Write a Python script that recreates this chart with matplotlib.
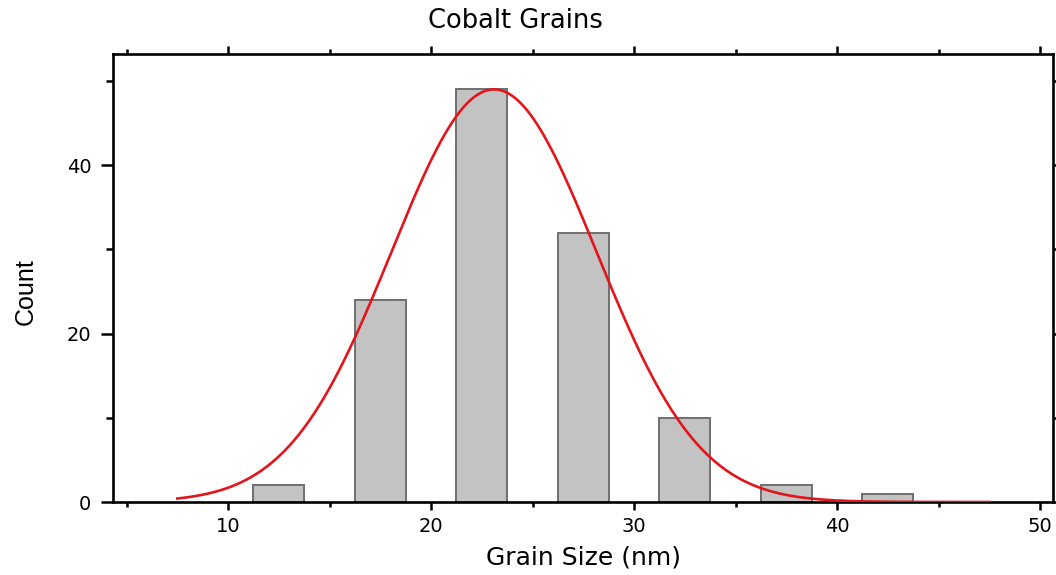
import numpy as np
import matplotlib
matplotlib.use("Agg")
import matplotlib.pyplot as plt
from matplotlib import font_manager
from matplotlib.ticker import MultipleLocator

# histogram of grain sizes (bin centres in nm, counts)
bin_centers = [12.5, 17.5, 22.5, 27.5, 32.5, 37.5, 42.5]
counts = [2, 24, 49, 32, 10, 2, 1]
bin_width = 2.5

# gaussian fit parameters
fit_center = 23.1
fit_sigma = 5.05
fit_peak = 49.0
fit_start, fit_end = 7.5, 47.5

installed = {f.name for f in font_manager.fontManager.ttflist}
narrow = "Liberation Sans Narrow" if "Liberation Sans Narrow" in installed else "Liberation Sans"

plt.rcParams["font.family"] = ["DejaVu Sans"]

fig = plt.figure(figsize=(10.56, 5.75), dpi=100)
ax = fig.add_axes([113 / 1056, 1 - 502 / 575, 940 / 1056, 448 / 575])

ax.bar(bin_centers, counts, width=bin_width, color="#c3c3c3",
       edgecolor="#6f6f6f", linewidth=1.4, zorder=2)

xs = np.linspace(fit_start, fit_end, 500)
ys = fit_peak * np.exp(-(xs - fit_center) ** 2 / (2 * fit_sigma ** 2))
ax.plot(xs, ys, color="#e3151b", lw=1.9, zorder=3)

ax.set_xlim(4.33, 50.64)
ax.set_ylim(0, 53.2)

ax.xaxis.set_major_locator(MultipleLocator(10))
ax.xaxis.set_minor_locator(MultipleLocator(5))
ax.yaxis.set_major_locator(MultipleLocator(20))
ax.yaxis.set_minor_locator(MultipleLocator(10))

for sp in ax.spines.values():
    sp.set_linewidth(1.9)

ax.tick_params(axis="both", which="both", direction="out", top=True, right=True,
               labeltop=False, labelright=False, width=1.8, labelsize=14)
ax.tick_params(axis="x", which="major", length=6, pad=5)
ax.tick_params(axis="x", which="minor", length=3.5)
ax.tick_params(axis="y", which="major", length=8.5, pad=7)
ax.tick_params(axis="y", which="minor", length=5)

ax.set_xlabel("Grain Size (nm)", fontsize=18)
ax.xaxis.label.set_va("center")
ax.xaxis.set_label_coords(0.5, -0.1228)

ax.set_ylabel("Count", fontsize=18, family=[narrow, "DejaVu Sans"])
ax.yaxis.label.set_va("center")
ax.yaxis.set_label_coords(-0.0926, 0.469)

fig.text(515 / 1056, 1 - 21 / 575, "Cobalt Grains", fontsize=18.5,
         ha="center", va="center")

fig.savefig("out.png", dpi=100)
